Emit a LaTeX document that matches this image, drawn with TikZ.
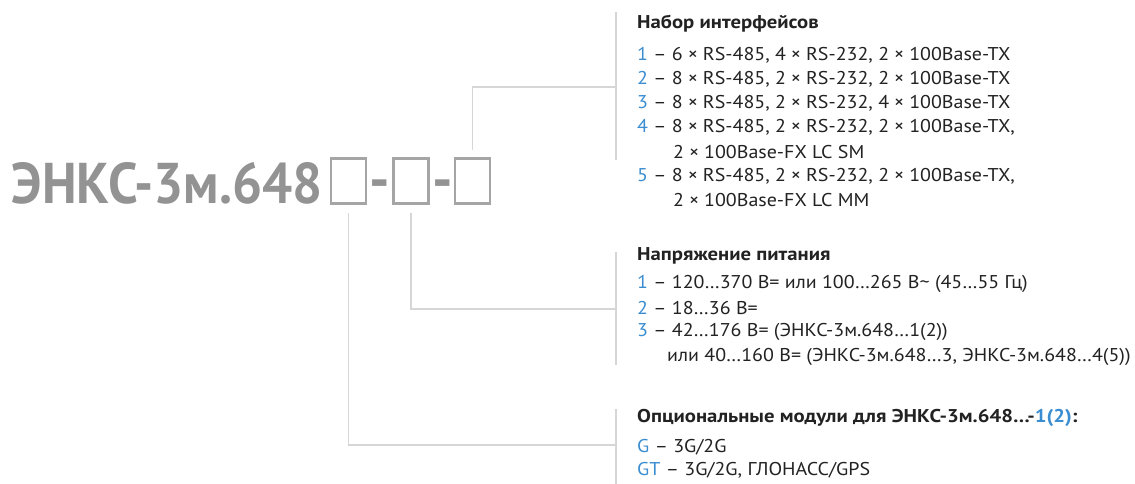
\documentclass[tikz,border=0pt]{standalone}
\usepackage{fontspec}
\setmainfont{PT Sans}
\newfontfamily\bodyfont{PT Sans}[FakeStretch=1.08]
\newfontfamily\headfont{PT Sans}[FakeStretch=1.12]
\definecolor{numblue}{HTML}{3A8DD0}
\definecolor{txt}{HTML}{222222}
\definecolor{titlegrey}{HTML}{939393}
\definecolor{boxgrey}{HTML}{A5A5A5}
\definecolor{linegrey}{HTML}{D6D6D6}
\newcommand{\nb}[1]{\textcolor{numblue}{#1}}
\newcommand{\mul}{\hspace{5pt}×\hspace{5pt}}
\begin{document}
\begin{tikzpicture}[x=1pt,y=-1pt,
  item/.style={anchor=west, inner sep=0pt, text=txt, font=\bodyfont\fontsize{18.5}{20}\selectfont},
  head/.style={anchor=west, inner sep=0pt, text=txt, font=\headfont\fontsize{18.5}{20}\selectfont\bfseries},
  slot/.style={draw=boxgrey, fill=white, line width=2.5pt, minimum width=35pt, minimum height=45pt, inner sep=0pt},
  dashmark/.style={anchor=base, inner sep=0pt, text=titlegrey, font=\fontsize{57}{60}\selectfont\bfseries},
  leader/.style={draw=linegrey, line width=1.5pt},
]
\fill[white] (0,0) rectangle (1135,484);
\useasboundingbox (0,0) rectangle (1135,484);

% title
\node[anchor=base east, inner sep=0pt, text=titlegrey, font=\bfseries] (title) at (323,203) {\resizebox{311pt}{41pt}{ЭНКС-3м.648}};
\node[dashmark] (d1) at (379.5,199) {-};
\node[dashmark] (d2) at (442.5,199) {-};
\node[slot] (b1) at (348.5,181) {};
\node[slot] (b2) at (411,181) {};
\node[slot] (b3) at (472.5,181) {};

% block 1
\node[head] (h1) at (637,24) {Набор интерфейсов};
\node[item] (i11) at (637,55) {\nb{1} – 6\mul RS-485, 4\mul RS-232, 2\mul 100Base-TX};
\node[item] (i12) at (637,79.2) {\nb{2} – 8\mul RS-485, 2\mul RS-232, 2\mul 100Base-TX};
\node[item] (i13) at (637,103.4) {\nb{3} – 8\mul RS-485, 2\mul RS-232, 4\mul 100Base-TX};
\node[item] (i14) at (637,127.6) {\nb{4} – 8\mul RS-485, 2\mul RS-232, 2\mul 100Base-TX,};
\node[item] (i15) at (673,151.8) {2\mul 100Base-FX LC SM};
\node[item] (i16) at (637,176) {\nb{5} – 8\mul RS-485, 2\mul RS-232, 2\mul 100Base-TX,};
\node[item] (i17) at (673,200.2) {2\mul 100Base-FX LC MM};

% block 2
\node[head] (h2) at (637,256) {Напряжение питания};
\node[item] (i21) at (637,284) {\nb{1} – 120…370 В= или 100…265 В\textasciitilde{} (45…55 Гц)};
\node[item] (i22) at (637,308) {\nb{2} – 18…36 В=};
\node[item] (i23) at (637,332) {\nb{3} – 42…176 В= (ЭНКС-3м.648…1(2))};
\node[item] (i24) at (667,357) {или 40…160 В= (ЭНКС-3м.648…3, ЭНКС-3м.648…4(5))};

% block 3
\node[head] (h3) at (637,418) {Опциональные модули для ЭНКС-3м.648…-\nb{1(2)}:};
\node[item] (i31) at (637,447) {\nb{G} – 3G/2G};
\node[item] (i32) at (637,470) {\nb{GT} – 3G/2G, ГЛОНАСС/GPS};

% brackets
\coordinate (t1) at (616,12);  \coordinate (e1) at (616,160);
\coordinate (t2) at (616,252); \coordinate (e2) at (616,365);
\coordinate (t3) at (616,409); \coordinate (e3) at (616,484);
\draw[leader] (t1) -- (e1);
\draw[leader] (t2) -- (e2);
\draw[leader] (t3) -- (e3);

% leaders
\coordinate (j1) at (616,87);
\coordinate (j2) at (616,309);
\coordinate (j3) at (616,445);
\draw[leader, shorten <=7pt] (b3.north) |- (j1);
\draw[leader, shorten <=8pt] (b2.south) |- (j2);
\draw[leader, shorten <=8pt] (b1.south) |- (j3);
\end{tikzpicture}
\end{document}
